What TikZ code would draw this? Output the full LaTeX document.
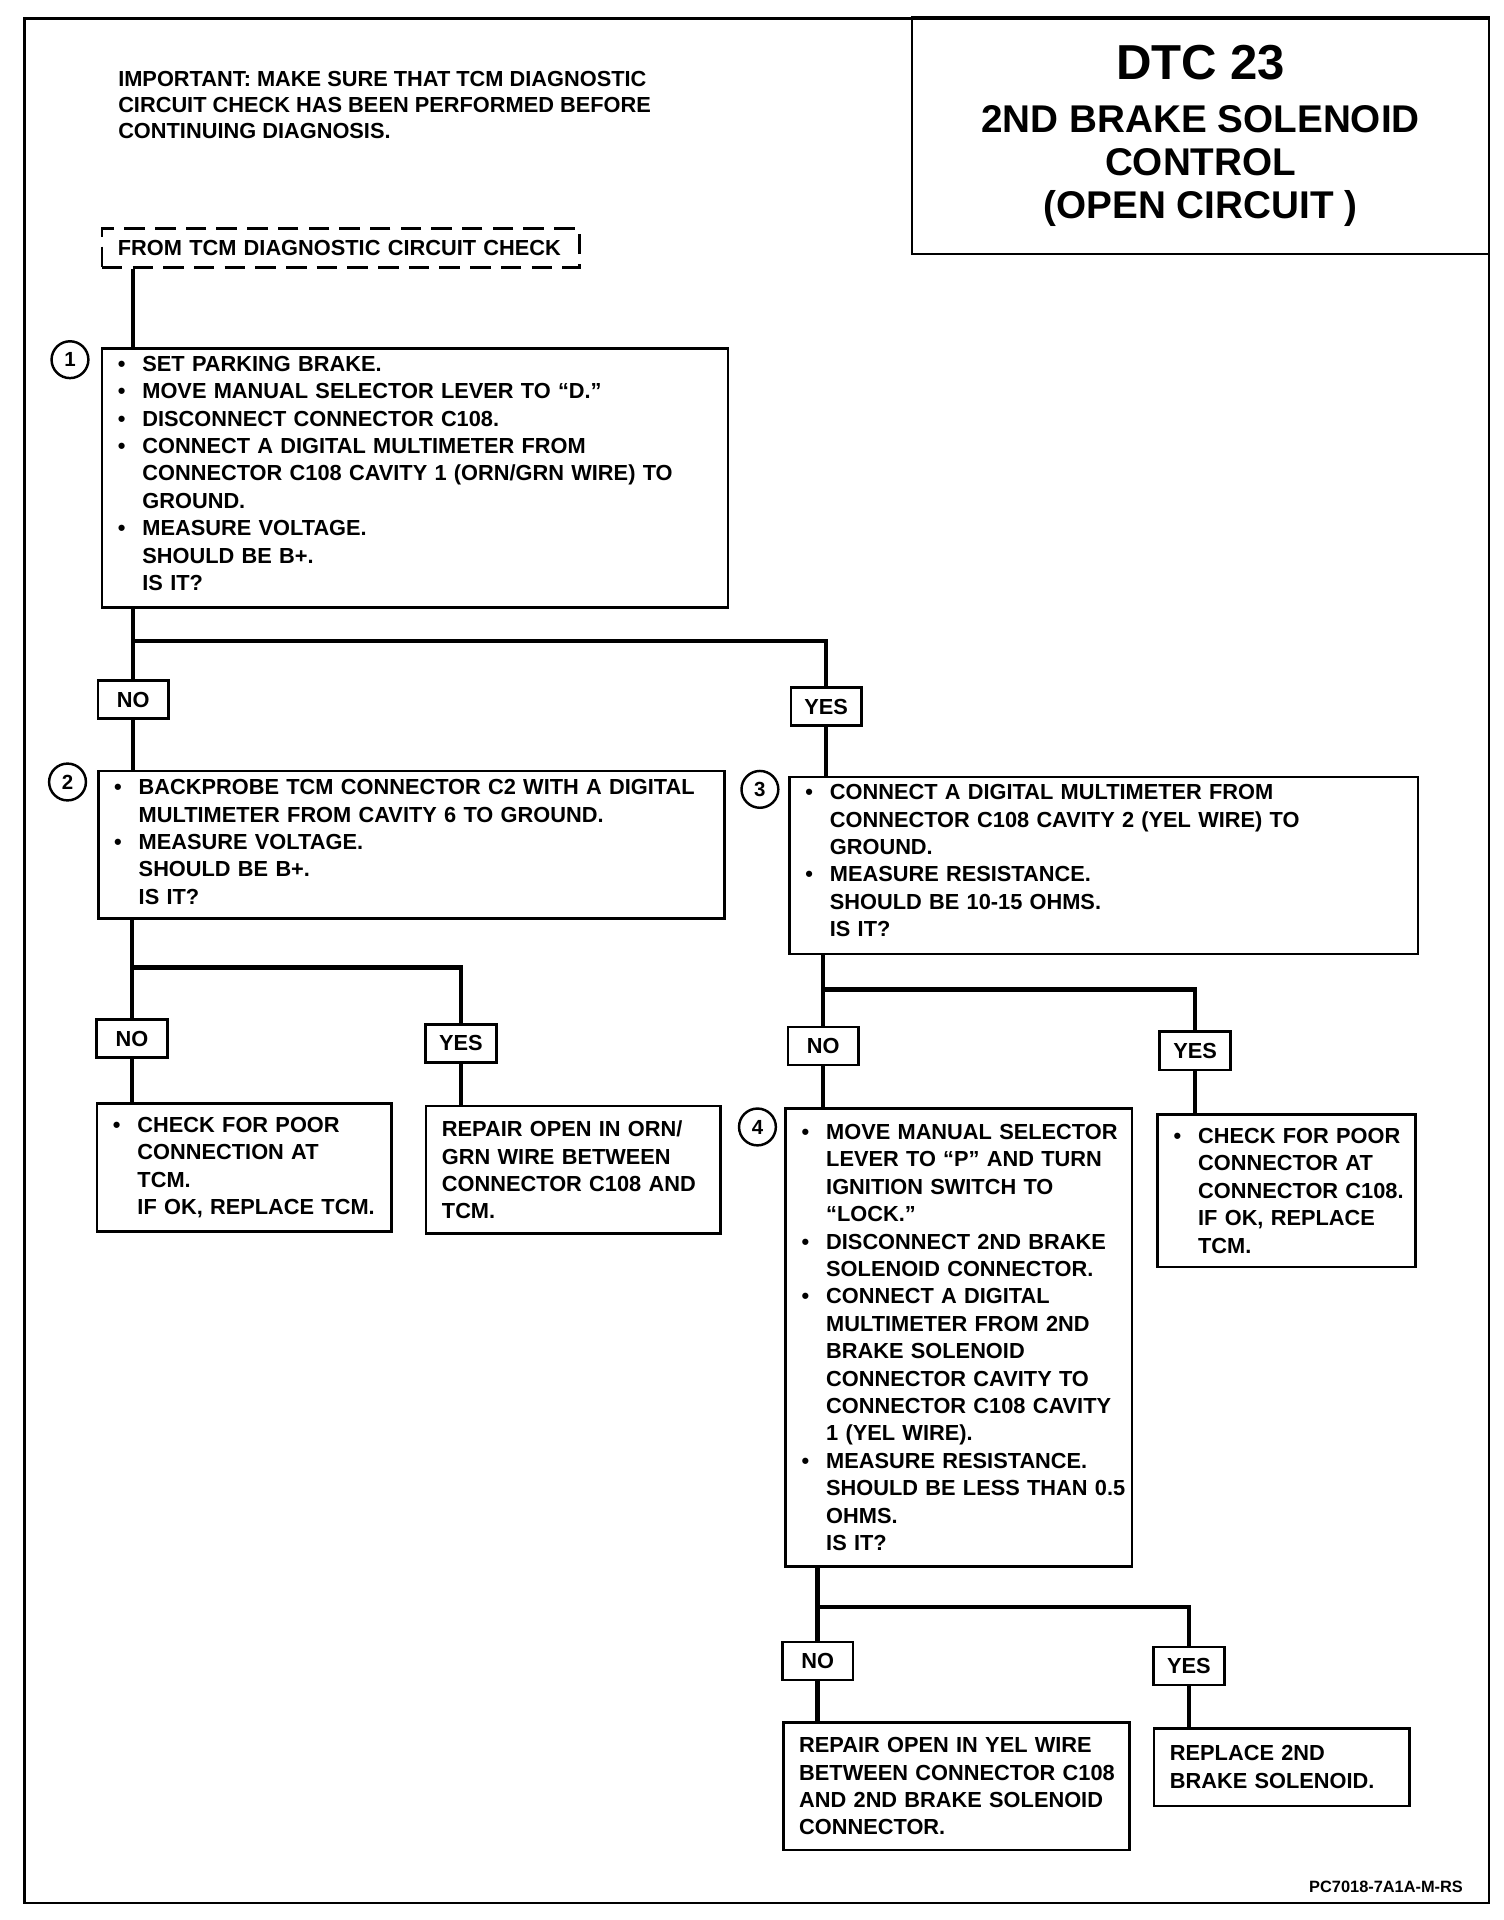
\documentclass[tikz,border=0pt]{standalone}
\usepackage{fontspec}
\setmainfont{Liberation Sans}
\newlength\bind
\setlength\bind{12pt}
\newcommand\fbul[1]{\mbox{\makebox[\bind][l]{\textbullet}#1}}
\newcommand\fcon[1]{\mbox{\hspace*{\bind}#1}}
\newcommand\fpln[1]{\mbox{#1}}
\begin{document}
\begin{tikzpicture}[x=0.6pt,y=-0.6pt,
  font=\bfseries\fontsize{10.65}{13.4}\selectfont,
  box/.style={draw, line width=1.3pt, inner xsep=7.8pt, inner ysep=0pt, align=left},
  lbl/.style={draw, line width=1.3pt, inner sep=0pt, minimum width=34.5pt, minimum height=18.6pt},
  num/.style={draw, circle, line width=1.2pt, inner sep=0pt, minimum size=18pt, font=\bfseries\fontsize{10}{10}\selectfont},
  conn/.style={line width=2.2pt}]
\useasboundingbox (0,0) rectangle (1225,1564);
\fill[white] (0,0) rectangle (1225,1564);
% outer frame
\draw[line width=1.3pt] (20,15) rectangle (1213,1550);
% title
\node[draw, line width=1.3pt, minimum width=282pt, minimum height=115.8pt, align=center,
  font=\bfseries\fontsize{18.9}{21}\selectfont] (title) at (978,110.5)
  {{\fontsize{24}{24}\selectfont DTC 23}\\[5pt]2ND BRAKE SOLENOID\\CONTROL\\(OPEN CIRCUIT )\rule[-3pt]{0pt}{1pt}};
% note
\node[anchor=north west, inner sep=0pt, align=left, font=\bfseries\fontsize{10.65}{12.9}\selectfont] (note) at (96,57.5)
  {IMPORTANT: MAKE SURE THAT TCM DIAGNOSTIC\\CIRCUIT CHECK HAS BEEN PERFORMED BEFORE\\CONTINUING DIAGNOSIS.};
% start
\node[draw, dashed, dash pattern=on 10pt off 5pt, line width=1.3pt, minimum width=233.4pt, minimum height=19.2pt,
  inner xsep=7.8pt, inner ysep=0pt, text width=217.8pt, align=left] (start) at (277.5,202)
  {\fpln{FROM TCM DIAGNOSTIC CIRCUIT CHECK}};
% step boxes
\node[box, minimum width=306pt, minimum height=126.6pt, text width=290.4pt] (b1) at (338,389.5)
  {\fbul{SET PARKING BRAKE.}\\
   \fbul{MOVE MANUAL SELECTOR LEVER TO “D.”}\\
   \fbul{DISCONNECT CONNECTOR C108.}\\
   \fbul{CONNECT A DIGITAL MULTIMETER FROM}\\
   \fcon{CONNECTOR C108 CAVITY 1 (ORN/GRN WIRE) TO}\\
   \fcon{GROUND.}\\
   \fbul{MEASURE VOLTAGE.}\\
   \fcon{SHOULD BE B+.}\\
   \fcon{IS IT?\rule[-4.8pt]{0pt}{1pt}}};
\node[box, minimum width=306pt, minimum height=72pt, text width=290.4pt] (b2) at (335,688)
  {\fbul{BACKPROBE TCM CONNECTOR C2 WITH A DIGITAL}\\
   \fcon{MULTIMETER FROM CAVITY 6 TO GROUND.}\\
   \fbul{MEASURE VOLTAGE.}\\
   \fcon{SHOULD BE B+.}\\
   \fcon{IS IT?\rule[-2.6pt]{0pt}{1pt}}};
\node[box, minimum width=307.2pt, minimum height=86.4pt, text width=291.6pt] (b3) at (899,705)
  {\fbul{CONNECT A DIGITAL MULTIMETER FROM}\\
   \fcon{CONNECTOR C108 CAVITY 2 (YEL WIRE) TO}\\
   \fcon{GROUND.}\\
   \fbul{MEASURE RESISTANCE.}\\
   \fcon{SHOULD BE 10-15 OHMS.}\\
   \fcon{IS IT?\rule[-4.8pt]{0pt}{1pt}}};
\node[box, minimum width=144pt, minimum height=62.4pt, text width=128.4pt] (b2n) at (199,951)
  {\fbul{CHECK FOR POOR}\\
   \fcon{CONNECTION AT}\\
   \fcon{TCM.}\\
   \fcon{IF OK, REPLACE TCM.}};
\node[box, minimum width=144pt, minimum height=62.4pt, text width=128.4pt] (b2y) at (467,953)
  {\fpln{REPAIR OPEN IN ORN/}\\
   \fpln{GRN WIRE BETWEEN}\\
   \fpln{CONNECTOR C108 AND}\\
   \fpln{TCM.}};
\node[box, minimum width=169.2pt, minimum height=223.8pt, text width=153.6pt] (b4) at (781,1089.5)
  {\fbul{MOVE MANUAL SELECTOR}\\
   \fcon{LEVER TO “P” AND TURN}\\
   \fcon{IGNITION SWITCH TO}\\
   \fcon{“LOCK.”}\\
   \fbul{DISCONNECT 2ND BRAKE}\\
   \fcon{SOLENOID CONNECTOR.}\\
   \fbul{CONNECT A DIGITAL}\\
   \fcon{MULTIMETER FROM 2ND}\\
   \fcon{BRAKE SOLENOID}\\
   \fcon{CONNECTOR CAVITY TO}\\
   \fcon{CONNECTOR C108 CAVITY}\\
   \fcon{1 (YEL WIRE).}\\
   \fbul{MEASURE RESISTANCE.}\\
   \fcon{SHOULD BE LESS THAN 0.5}\\
   \fcon{OHMS.}\\
   \fcon{IS IT?}};
\node[box, minimum width=126pt, minimum height=74.4pt, text width=110.4pt] (b3y) at (1048,970)
  {\fbul{CHECK FOR POOR}\\
   \fcon{CONNECTOR AT}\\
   \fcon{CONNECTOR C108.}\\
   \fcon{IF OK, REPLACE}\\
   \fcon{TCM.}};
\node[box, minimum width=169.2pt, minimum height=62.4pt, text width=153.6pt] (b4n) at (779,1455)
  {\fpln{REPAIR OPEN IN YEL WIRE}\\
   \fpln{BETWEEN CONNECTOR C108}\\
   \fpln{AND 2ND BRAKE SOLENOID}\\
   \fpln{CONNECTOR.}};
\node[box, minimum width=124.8pt, minimum height=37.8pt, text width=109.2pt] (b4y) at (1044,1439.5)
  {\fpln{REPLACE 2ND}\\
   \fpln{BRAKE SOLENOID.}};
% step numbers
\node[num] (c1) at (57,293) {1};
\node[num] (c2) at (55,637) {2};
\node[num] (c3) at (619,643) {3};
\node[num] (c4) at (617,918) {4};
% yes / no labels
\node[lbl] (no1) at (108.5,570) {NO};
\node[lbl] (yes1) at (673,575.5) {YES};
\node[lbl] (no2) at (107.5,846) {NO};
\node[lbl] (yes2) at (375.5,850) {YES};
\node[lbl] (no3) at (670.5,852) {NO};
\node[lbl] (yes3) at (973.5,856) {YES};
\node[lbl] (no4) at (666,1353) {NO};
\node[lbl] (yes4) at (968.5,1357) {YES};
% connectors
\draw[conn] (start.south -| no1) -- (b1.north -| no1);
\draw[conn] (b1.south -| no1) -- (no1.north);
\draw[conn] (b1.south -| no1) -- ++(0,26) -| (yes1.north);
\draw[conn] (no1.south) -- (b2.north -| no1);
\draw[conn] (yes1.south) -- (b3.north -| yes1);
\draw[conn] (b2.south -| no2) -- (no2.north);
\draw[conn] (b2.south -| no2) -- ++(0,39) -| (yes2.north);
\draw[conn] (no2.south) -- (b2n.north -| no2);
\draw[conn] (yes2.south) -- (b2y.north -| yes2);
\draw[conn] (b3.south -| no3) -- (no3.north);
\draw[conn] (b3.south -| no3) -- ++(0,28) -| (yes3.north);
\draw[conn] (no3.south) -- (b4.north -| no3);
\draw[conn] (yes3.south) -- (b3y.north -| yes3);
\draw[conn] (b4.south -| no4) -- (no4.north);
\draw[conn] (b4.south -| no4) -- ++(0,32) -| (yes4.north);
\draw[conn] (no4.south) -- (b4n.north -| no4);
\draw[conn] (yes4.south) -- (b4y.north -| yes4);
% figure reference
\node[anchor=east, inner sep=0pt, font=\bfseries\fontsize{8}{8}\selectfont] (figref) at (1192,1537) {PC7018-7A1A-M-RS};
\end{tikzpicture}
\end{document}
